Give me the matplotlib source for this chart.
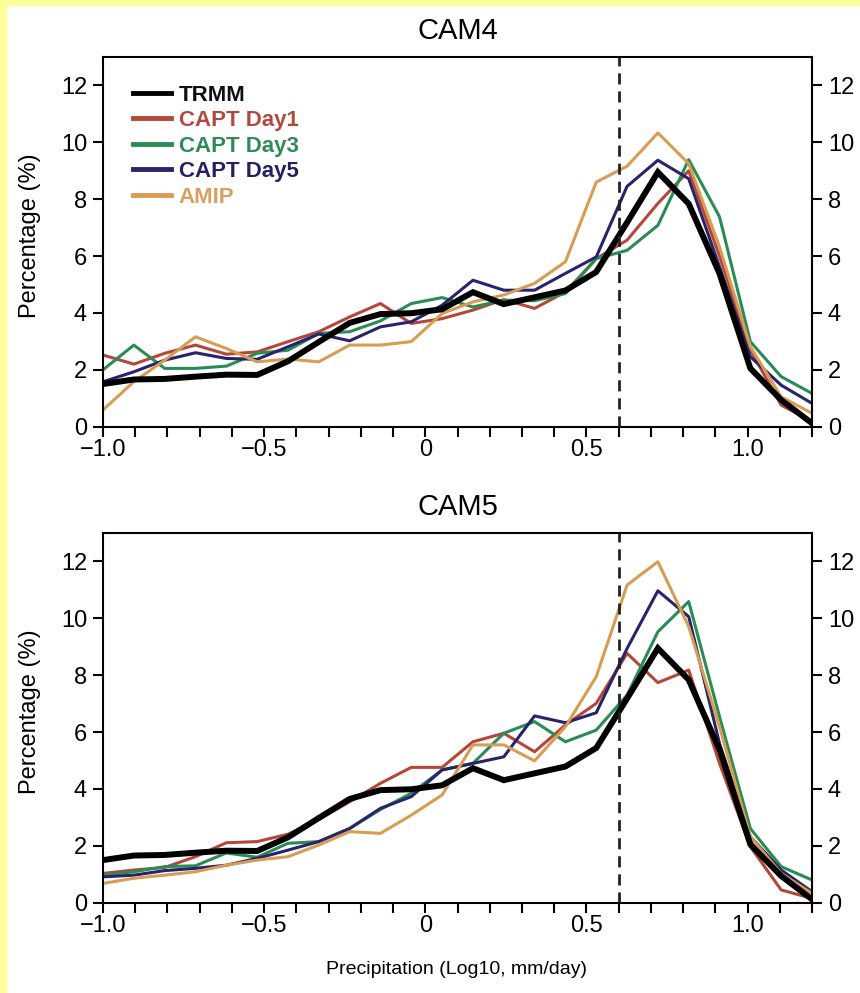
import numpy as np
import matplotlib
matplotlib.use('Agg')
import matplotlib.pyplot as plt
from matplotlib.patches import Rectangle
from matplotlib.ticker import MultipleLocator

# bin centres of log10 precipitation (mm/day)
precip = np.linspace(-1.0, 1.2, 24)

trmm = [1.5, 1.66, 1.68, 1.76, 1.83, 1.82, 2.3, 2.98, 3.65, 3.96, 3.99, 4.13,
        4.73, 4.31, 4.55, 4.79, 5.44, 7.18, 8.95, 7.84, 5.38, 2.05, 0.94, 0.12]

cam4_day1 = [2.52, 2.2, 2.58, 2.87, 2.55, 2.63, 2.99, 3.34, 3.86, 4.33, 3.63, 3.8,
             4.1, 4.47, 4.16, 4.74, 5.91, 6.56, 7.85, 9.0, 6.0, 2.7, 0.76, 0.18]
cam4_day3 = [2.0, 2.87, 2.05, 2.05, 2.13, 2.58, 2.69, 3.28, 3.34, 3.72, 4.33, 4.54,
             4.21, 4.45, 4.43, 4.68, 5.91, 6.2, 7.08, 9.39, 7.38, 2.99, 1.76, 1.17]
cam4_day5 = [1.58, 1.93, 2.34, 2.6, 2.4, 2.37, 2.81, 3.26, 3.02, 3.51, 3.69, 4.27,
             5.15, 4.8, 4.8, 5.39, 5.97, 8.45, 9.37, 8.72, 5.62, 2.46, 1.46, 0.82]
cam4_amip = [0.59, 1.58, 2.34, 3.16, 2.75, 2.28, 2.38, 2.28, 2.87, 2.87, 2.99, 3.98,
             4.39, 4.63, 5.04, 5.8, 8.6, 9.16, 10.33, 9.25, 6.32, 2.81, 1.05, 0.47]

cam5_day1 = [1.03, 1.15, 1.24, 1.62, 2.11, 2.15, 2.41, 2.93, 3.55, 4.2, 4.76, 4.76,
             5.66, 5.96, 5.31, 6.25, 7.01, 8.77, 7.74, 8.18, 4.9, 1.97, 0.45, 0.15]
cam5_day3 = [0.97, 1.09, 1.27, 1.3, 1.75, 1.6, 2.09, 2.15, 2.61, 3.28, 3.85, 4.67,
             4.9, 5.96, 6.37, 5.66, 6.07, 7.3, 9.53, 10.59, 6.54, 2.61, 1.27, 0.8]
cam5_day5 = [0.91, 0.97, 1.13, 1.21, 1.32, 1.56, 1.85, 2.15, 2.61, 3.32, 3.73, 4.67,
             4.9, 5.13, 6.57, 6.33, 6.68, 8.94, 10.97, 10.06, 5.6, 2.32, 1.15, 0.39]
cam5_amip = [0.68, 0.86, 0.97, 1.09, 1.32, 1.5, 1.62, 2.03, 2.5, 2.44, 3.08, 3.79,
             5.55, 5.55, 4.99, 6.19, 7.95, 11.17, 11.99, 9.71, 6.19, 2.32, 1.03, 0.33]

panel_titles = ['CAM4', 'CAM5']
series_names = ['TRMM', 'CAPT Day1', 'CAPT Day3', 'CAPT Day5', 'AMIP']
line_colors = ['black', '#b4463a', '#2a8c55', '#28236a', '#d89c52']
text_colors = ['#111111', '#b04a40', '#2e8b57', '#252060', '#d8a060']

xtick_vals = [-1.0, -0.5, 0.0, 0.5, 1.0]
xtick_text = ['\u22121.0', '\u22120.5', '0', '0.5', '1.0']
ytick_vals = [0, 2, 4, 6, 8, 10, 12]

narrow = ['Liberation Sans Narrow', 'Liberation Sans', 'DejaVu Sans']
plain = ['Liberation Sans', 'DejaVu Sans']
plt.rcParams['font.family'] = narrow

fig = plt.figure(figsize=(8.6, 9.93), dpi=100)

# light yellow frame at top and left edge
fig.patches.append(Rectangle((0, 1 - 5 / 993), 1, 5 / 993, transform=fig.transFigure,
                             color='#ffff99', zorder=0))
fig.patches.append(Rectangle((0, 0), 6 / 860, 1, transform=fig.transFigure,
                             color='#ffff99', zorder=0))

panels = [
    (0.5703, [cam4_day1, cam4_day3, cam4_day5, cam4_amip]),
    (0.0909, [cam5_day1, cam5_day3, cam5_day5, cam5_amip]),
]

for p, (bottom, models) in enumerate(panels):
    ax = fig.add_axes([0.1198, bottom, 0.8244, 0.3723])
    handles = []
    for vals, col in zip(models, line_colors[1:]):
        ln, = ax.plot(precip, vals, color=col, lw=2.2, zorder=2)
        handles.append(ln)
    obs, = ax.plot(precip, trmm, color='black', lw=4.3, zorder=3,
                   solid_joinstyle='miter')
    handles.insert(0, obs)
    ax.axvline(0.6, color='#222222', lw=2.0, ls=(0, (4, 2.5)), zorder=4)

    ax.set_xlim(-1.0, 1.2)
    ax.set_ylim(0, 13)
    ax.set_xticks(xtick_vals)
    ax.set_xticklabels(xtick_text)
    ax.xaxis.set_minor_locator(MultipleLocator(0.1))
    ax.set_yticks(ytick_vals)
    ax.tick_params(axis='both', which='both', direction='out', length=7, width=1.5,
                   labelsize=17)
    ax.tick_params(axis='x', pad=2)
    ax.tick_params(axis='y', right=True, labelright=True, pad=4.5)
    for s in ax.spines.values():
        s.set_linewidth(1.5)
    ax.set_title(panel_titles[p], fontsize=21, pad=13)

    centre_y = bottom + 0.3723 / 2
    fig.text(30 / 860, centre_y + 0.006, 'Percentage (%)', rotation=90, ha='center',
             va='center', fontsize=17, family=plain)

    if p == 0:
        leg = ax.legend(handles, series_names, loc='upper left',
                        bbox_to_anchor=(30 / 709, 0.925), frameon=False,
                        prop={'family': plain, 'weight': 'bold', 'size': 16},
                        handlelength=1.7, handletextpad=0.35, labelspacing=0.2,
                        borderpad=0, borderaxespad=0)
        for txt, c in zip(leg.get_texts(), text_colors):
            txt.set_color(c)
        for hl in leg.get_lines():
            hl.set_linewidth(3.5)

fig.text(457 / 860, 0.0232, 'Precipitation (Log10, mm/day)', ha='center', va='center',
         fontsize=14)

fig.savefig('out.png', dpi=100)
